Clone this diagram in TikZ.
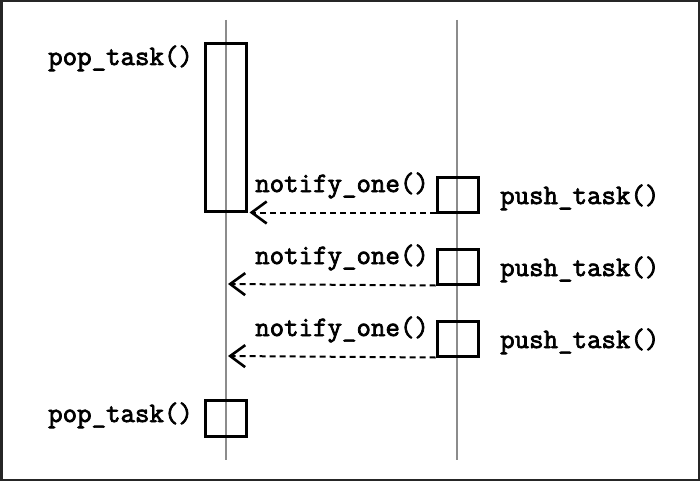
\documentclass[tikz,border=0pt]{standalone}
\usepackage{fontspec}
\newfontfamily\courbold[FakeBold=2.6]{Latin Modern Mono}
\usetikzlibrary{arrows.meta}
\begin{document}
\begin{tikzpicture}[x=1pt,y=-1pt,
  lifeline/.style={draw=black!45,line width=1.4pt},
  actbox/.style={draw=black,line width=3pt,fill=none,inner sep=0pt,minimum width=41pt},
  lbl/.style={font=\courbold\fontsize{28.1}{32}\selectfont,inner sep=0pt,anchor=base west},
  msg/.style={draw=black,line width=2pt,dash pattern=on 6pt off 4pt,
    -{Straight Barb[length=15pt,width=22pt,line width=2.6pt]}}]
\useasboundingbox (0,0) rectangle (700,481);
\draw[draw=black!85,line width=2.5pt] (1.25,1.25) rectangle (698.75,479.75);
% lifelines
\coordinate (l1t) at (226,20);
\coordinate (l1b) at (226,460);
\coordinate (l2t) at (457,20);
\coordinate (l2b) at (457,460);
\draw[lifeline] (l1t) -- (l1b);
\draw[lifeline] (l2t) -- (l2b);
% activation boxes
\node[actbox,minimum height=167pt] (b1) at (225.5,127.5) {};
\node[actbox,minimum height=36pt] (b2) at (225.5,418) {};
\node[actbox,minimum height=35pt] (p1) at (457.5,194.5) {};
\node[actbox,minimum height=35pt] (p2) at (457.5,266.5) {};
\node[actbox,minimum height=35pt] (p3) at (457.5,338.5) {};
% labels
\node[lbl] (t1) at (48,65) {pop\_task()};
\node[lbl] (t2) at (48,422) {pop\_task()};
\node[lbl] (n1) at (255,192) {notify\_one()};
\node[lbl] (n2) at (255,264) {notify\_one()};
\node[lbl] (n3) at (255,336) {notify\_one()};
\node[lbl] (s1) at (500,204) {push\_task()};
\node[lbl] (s2) at (500,276) {push\_task()};
\node[lbl] (s3) at (500,348) {push\_task()};
% messages
\coordinate (e2) at (228,284);
\coordinate (e3) at (228,356);
\draw[msg] (p1.west |- b1.south) -- ([xshift=2pt]b1.south east);
\draw[msg] (p2.south west) -- (e2);
\draw[msg] (p3.south west) -- (e3);
\end{tikzpicture}
\end{document}
